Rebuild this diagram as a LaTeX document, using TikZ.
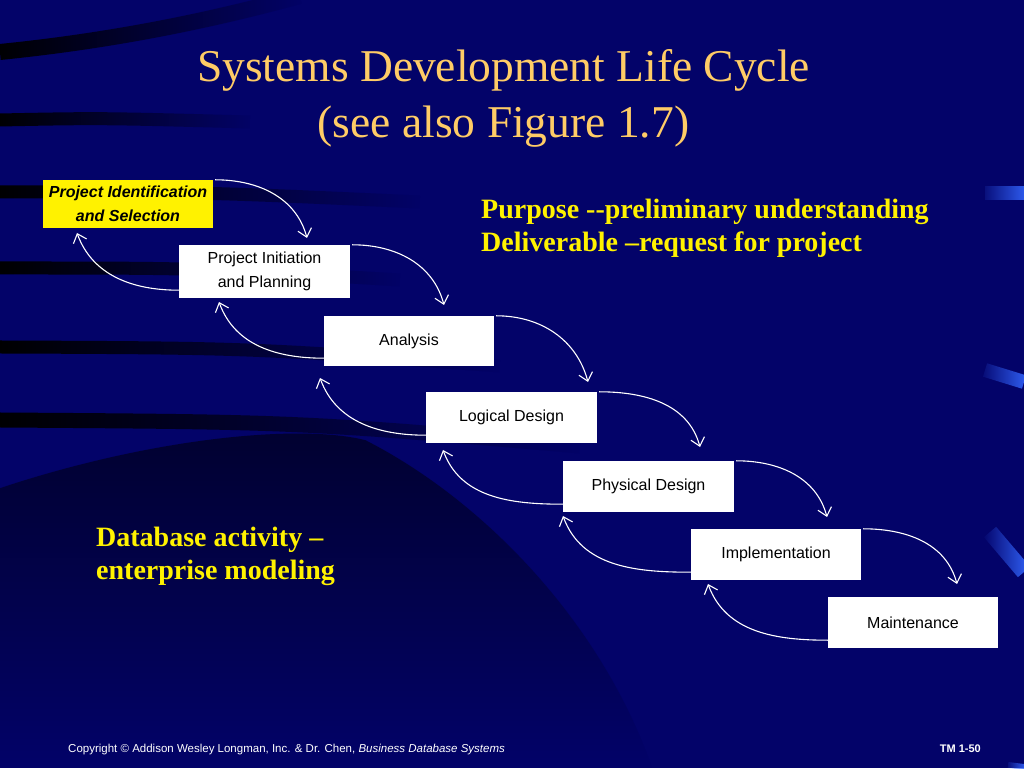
\documentclass[tikz,border=0pt]{standalone}
\usepackage{fontspec}
\setmainfont{Liberation Serif}
\setsansfont{Liberation Sans}
\usetikzlibrary{arrows.meta,fadings}
\definecolor{navy}{RGB}{3,3,105}
\definecolor{peach}{RGB}{255,204,102}
\definecolor{streak}{RGB}{51,102,255}
\tikzset{
  stage/.style={fill=white,minimum width=171pt,minimum height=51pt,inner sep=0pt,
    align=center,font=\sffamily\fontsize{16}{24}\selectfont},
  flow/.style={draw=white,line width=1.1pt,-{Straight Barb[length=8pt,width=14pt]}},
  band/.style={draw=black,line width=13pt,path fading=east},
  shine/.style={draw=streak,line width=14pt,path fading=west},
  note/.style={text=yellow,inner sep=0pt,align=left,font=\bfseries\fontsize{28}{33}\selectfont}
}
\begin{document}
\begin{tikzpicture}[x=1pt,y=1pt]
\fill[navy] (0,0) rectangle (1024,768);
\useasboundingbox (0,0) rectangle (1024,768);
\draw[band,line width=16pt] (0,716) .. controls (120,728) and (220,750) .. (300,772);
\draw[band] (0,648) .. controls (100,650) .. (250,646);
\draw[band] (0,576) .. controls (200,576) .. (420,566);
\draw[band] (0,500) .. controls (200,500) .. (400,488);
\draw[band] (0,421) .. controls (250,420) .. (500,402);
\draw[band,line width=15pt] (0,348) .. controls (300,346) .. (580,322);
\fill[black,opacity=.55,path fading=south] (0,280) .. controls (150,330) and (300,345) .. (366,328)
  .. controls (480,270) and (600,150) .. (653,0) -- (0,0) -- cycle;
\draw[shine] (985,575) -- (1024,575);
\draw[shine] (985,398) -- (1024,386);
\draw[shine,line width=16pt] (990,236) -- (1024,196);
\draw[shine,line width=6pt] (1008,3) -- (1024,1);

\node[text=peach,align=center,font=\fontsize{45.5}{56}\selectfont] (title) at (503.5,670)
  {Systems Development Life Cycle\\(see also Figure 1.7)};

\node[stage,fill=yellow,minimum width=170pt,minimum height=48pt,font=\sffamily\bfseries\itshape\fontsize{16}{24}\selectfont]
  (pis) at (128,564) {Project Identification\\and Selection};
\node[stage,minimum height=53pt] (pip) at (264.5,496.5) {Project Initiation\\and Planning};
\node[stage,minimum width=170pt,minimum height=50pt] (ana) at (409,427) {Analysis};
\node[stage] (lod) at (511.5,350.5) {Logical Design};
\node[stage] (phd) at (648.5,281.5) {Physical Design};
\node[stage,minimum width=170pt] (imp) at (776,213.5) {Implementation};
\node[stage,minimum width=170pt] (mnt) at (913,145.5) {Maintenance};

\coordinate (f1) at (307,530);
\coordinate (f2) at (444,463);
\coordinate (f3) at (588,386);
\coordinate (f4) at (700,321);
\coordinate (f5) at (827,251);
\coordinate (f6) at (957,184);
\coordinate (b1) at (77,535);
\coordinate (b2) at (219,466);
\coordinate (b3) at (320,390);
\coordinate (b4) at (443,318);
\coordinate (b5) at (563,252);
\coordinate (b6) at (708,184);
\foreach \a/\b/\n in {pis/pip/1,pip/ana/2,ana/lod/3,lod/phd/4,phd/imp/5,imp/mnt/6}{
  \draw[flow] ([xshift=2pt]\a.north east) to[out=0,in=105] (f\n);
  \draw[flow] ([yshift=8pt]\b.south west) to[out=180,in=-70] (b\n);
}

\node[note,anchor=west] (purpose) at (481,540)
  {Purpose {-}{-}preliminary understanding\\Deliverable --request for project};
\node[note,anchor=west] (dbact) at (96,212)
  {Database activity --\\enterprise modeling};

\node[anchor=base west,text=white,inner sep=0pt,font=\sffamily\fontsize{11.5}{13}\selectfont] (copy) at (68,16)
  {Copyright \textcopyright{} Addison Wesley Longman, Inc. \& Dr. Chen, \textit{Business Database Systems}};
\node[anchor=base east,text=white,inner sep=0pt,font=\sffamily\bfseries\fontsize{11}{13}\selectfont] (tm) at (981,16)
  {TM 1-50};
\end{tikzpicture}
\end{document}
